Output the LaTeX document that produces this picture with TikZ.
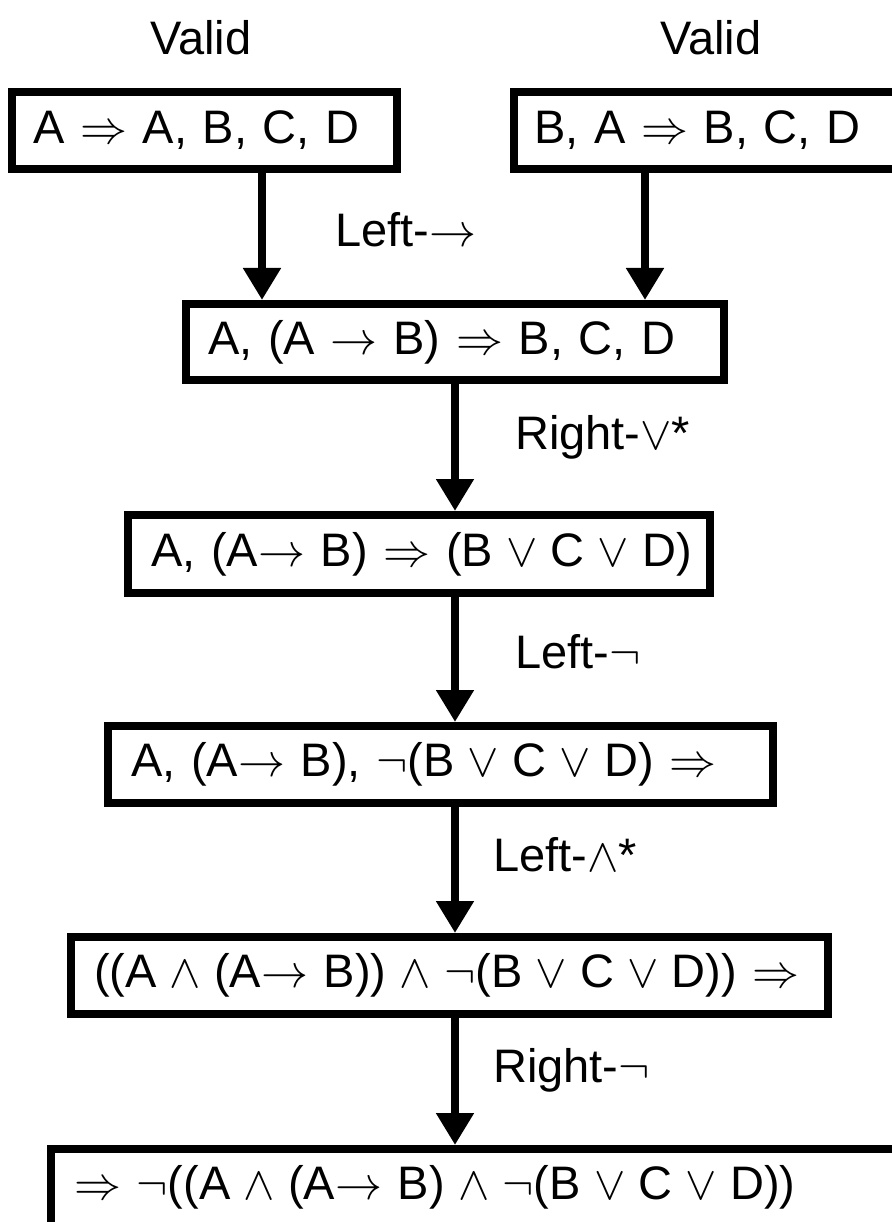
\RequirePackage{fix-cm}
\documentclass[tikz,border=0pt]{standalone}
\usepackage{fontspec}
\setmainfont{Liberation Sans}
\usetikzlibrary{arrows.meta}
\newcommand\sImp{\ensuremath{\Rightarrow}}
\newcommand\sTo{\ensuremath{\rightarrow}}
\newcommand\sOr{\kern-2.5pt\ensuremath{\vee}\kern-2.5pt}
\newcommand\sAnd{\kern-2.5pt\ensuremath{\wedge}\kern-2.5pt}
\newcommand\sNot{\ensuremath{\neg}}
\newcommand\lOr{\ensuremath{\vee}}
\newcommand\lAnd{\ensuremath{\wedge}}
\tikzset{
  seqbox/.style={draw, line width=8pt, anchor=north west, align=left,
    inner ysep=0pt, inner xsep=0pt, font=\fontsize{47}{54}\selectfont},
  rulelab/.style={anchor=west, inner sep=0pt, font=\fontsize{47}{54}\selectfont},
  arr/.style={line width=8pt, -{Triangle[width=36pt,length=32pt]}}
}
\begin{document}
\begin{tikzpicture}[x=1pt,y=-1pt]
\useasboundingbox (0,0) rectangle (891,1222);
\node[rulelab, anchor=center] (v1) at (201,38) {Valid};
\node[rulelab, anchor=center] (v2) at (711,38) {Valid};
% boxes: outer left/top corner; text width = outer width - 8; min height = outer height - 8
\node[seqbox, text width=385pt, minimum height=77pt] (b1) at (8,88) {\hspace*{21pt}A \sImp\ A, B, C, D};
\node[seqbox, text width=390pt, minimum height=77pt] (b2) at (510,88) {\hspace*{20pt}B, A \sImp\ B, C, D};
\node[seqbox, text width=538pt, minimum height=76pt] (b3) at (182,300) {\hspace*{22pt}A, (A \sTo\ B) \sImp\ B, C, D};
\node[seqbox, text width=582pt, minimum height=78pt] (b4) at (124,511) {\hspace*{23pt}A, (A\sTo\ B) \sImp\ (B \sOr\ C \sOr\ D)};
\node[seqbox, text width=665pt, minimum height=77pt] (b5) at (104,722) {\hspace*{23pt}A, (A\sTo\ B), \sNot(B \sOr\ C \sOr\ D) \sImp};
\node[seqbox, text width=757pt, minimum height=77pt] (b6) at (67,933) {\hspace*{23pt}((A \sAnd\ (A\sTo\ B)) \sAnd\ \sNot(B \sOr\ C \sOr\ D)) \sImp};
\node[seqbox, text width=870pt, minimum height=77pt] (b7) at (47,1145) {\hspace*{23pt}\sImp\ \sNot((A \sAnd\ (A\sTo\ B) \sAnd\ \sNot(B \sOr\ C \sOr\ D))};
% arrow x positions
\coordinate (xa) at (262,0);
\coordinate (xb) at (645,0);
\coordinate (xc) at (455,0);
\draw[arr] (b1.south -| xa) -- (b3.north -| xa);
\draw[arr] (b2.south -| xb) -- (b3.north -| xb);
\draw[arr] (b3.south -| xc) -- (b4.north -| xc);
\draw[arr] (b4.south -| xc) -- (b5.north -| xc);
\draw[arr] (b5.south -| xc) -- (b6.north -| xc);
\draw[arr] (b6.south -| xc) -- (b7.north -| xc);
% rule labels
\node[rulelab] (r1) at (335,230) {Left-\sTo};
\node[rulelab] (r2) at (515,437) {Right-\lOr*};
\node[rulelab] (r3) at (515,652) {Left-\sNot};
\node[rulelab] (r4) at (493,855) {Left-\lAnd*};
\node[rulelab] (r5) at (493,1070) {Right-\sNot};
\end{tikzpicture}
\end{document}
